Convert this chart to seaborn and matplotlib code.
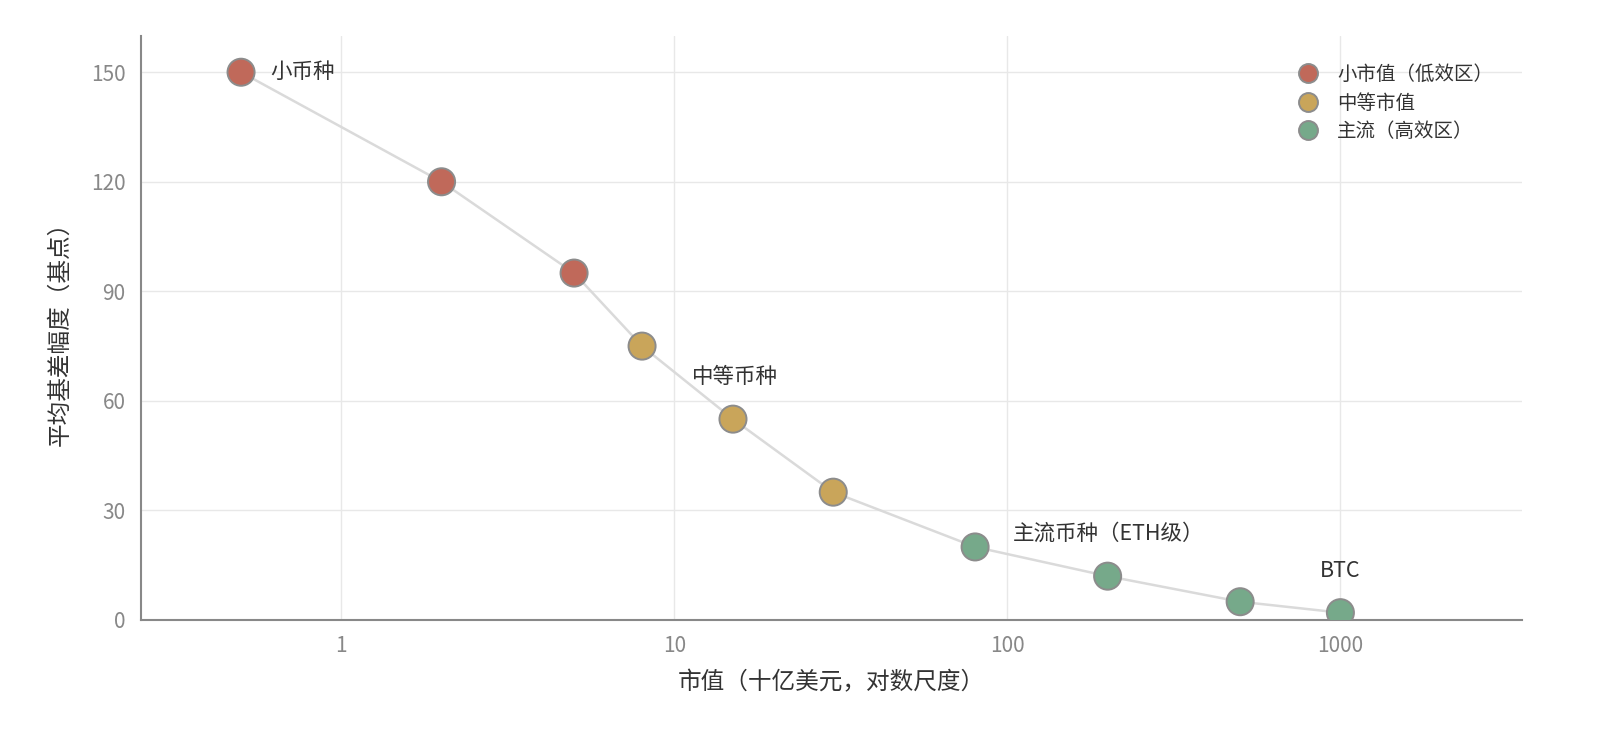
import matplotlib
matplotlib.use("Agg")
import matplotlib.pyplot as plt
import seaborn as sns
import pandas as pd

market_cap = [0.5, 2, 5, 8, 15, 30, 80, 200, 500, 1000]
basis_bp = [150, 120, 95, 75, 55, 35, 20, 12, 5, 2]
groups = ["小市值（低效区）"] * 3 + ["中等市值"] * 3 + ["主流（高效区）"] * 4
group_order = ["小市值（低效区）", "中等市值", "主流（高效区）"]
palette = ["#C0695A", "#C9A55A", "#76A98A"]
x_ticks = [1, 10, 100, 1000]
y_ticks = [0, 30, 60, 90, 120, 150]
annotations = [
    ("小币种", 0, (21, 0), "left"),
    ("中等币种", 4, (-29.5, 30), "left"),
    ("主流币种（ETH级）", 6, (27.5, 9.5), "left"),
    ("BTC", 9, (0, 30), "center"),
]

sns.set_theme(style="whitegrid")
plt.rcParams["font.family"] = ["Noto Sans CJK SC", "DejaVu Sans"]

df = pd.DataFrame({"cap": market_cap, "bp": basis_bp, "grp": groups})

fig = plt.figure(figsize=(16, 7.44), dpi=100)
ax = fig.add_axes([0.088, 0.1667, 0.863, 0.7853])

sns.lineplot(data=df, x="cap", y="bp", ax=ax, color="#DADADA", linewidth=1.8,
             sort=False, zorder=2, legend=False)
sns.scatterplot(data=df, x="cap", y="bp", hue="grp", hue_order=group_order,
                palette=palette, s=380, edgecolor="#8C8C8C", linewidth=1.4,
                ax=ax, zorder=3)

ax.set_xscale("log")
ax.set_xlim(0.25, 3500)
ax.set_ylim(0, 160)
ax.set_xticks(x_ticks)
ax.set_xticklabels([str(t) for t in x_ticks])
ax.minorticks_off()
ax.set_yticks(y_ticks)

ax.grid(True, color="#E8E8E8", linewidth=1.0)
ax.set_axisbelow(True)
for s in ["top", "right"]:
    ax.spines[s].set_visible(False)
for s in ["left", "bottom"]:
    ax.spines[s].set_color("#888888")
    ax.spines[s].set_linewidth(1.5)
ax.tick_params(axis="both", which="major", direction="out", length=5, width=1.5,
               color="#888888", labelcolor="#888888", labelsize=15, pad=6)
for lab in ax.get_xticklabels() + ax.get_yticklabels():
    lab.set_fontweight("light")

ax.set_xlabel("市值（十亿美元，对数尺度）", fontsize=17, color="#333333", labelpad=10)
ax.set_ylabel("平均基差幅度（基点）", fontsize=17, color="#333333", labelpad=14)

for text, idx, off, ha in annotations:
    ax.annotate(text, xy=(market_cap[idx], basis_bp[idx]), xytext=off,
                textcoords="offset points", ha=ha, va="center",
                fontsize=15.5, color="#333333")

leg = ax.legend(loc="upper right", bbox_to_anchor=(0.992, 0.982), frameon=False,
                fontsize=14, title=None, handletextpad=0.5, labelspacing=0.4,
                markerscale=0.7)
for t in leg.get_texts():
    t.set_color("#333333")

fig.savefig("out.png", dpi=100)
